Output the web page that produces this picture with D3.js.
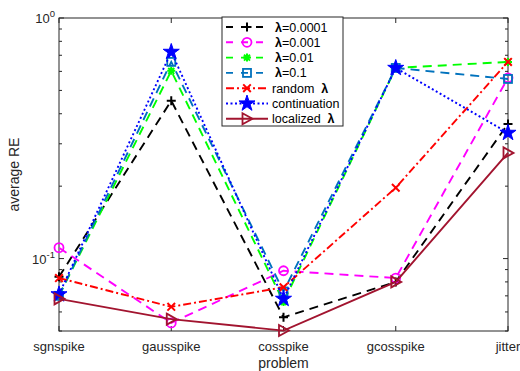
<!DOCTYPE html>
<html>
<head>
<meta charset="utf-8">
<script src="https://cdn.jsdelivr.net/npm/d3@7"></script>
<style>
  body { margin: 0; background: #fff; }
  text { font-family: "Liberation Sans", Arial, sans-serif; }
</style>
</head>
<body>
<div id="chart"></div>
<script>
// problem names on the x axis
var categories = ['sgnspike', 'gausspike', 'cosspike', 'gcosspike', 'jitter'];

// average RE per problem, one array per method
var lam0001 = [0.084, 0.453, 0.057, 0.080, 0.363];
var lam001 = [0.111, 0.054, 0.089, 0.083, 0.564];
var lam01 = [0.070, 0.603, 0.066, 0.620, 0.657];
var lam1 = [0.070, 0.657, 0.073, 0.620, 0.558];
var randomLam = [0.083, 0.063, 0.076, 0.197, 0.657];
var continuation = [0.071, 0.723, 0.068, 0.620, 0.333];
var localized = [0.068, 0.056, 0.0502, 0.080, 0.275];

var yMajorTicks = [0.1, 1];
var yMinorTicks = [0.05, 0.06, 0.07, 0.08, 0.09, 0.2, 0.3, 0.4, 0.5, 0.6, 0.7, 0.8, 0.9];

var series = [
  { pre: '', lam: true, post: '=0.0001', values: lam0001, color: '#000000', dash: '9,6', marker: 'plus' },
  { pre: '', lam: true, post: '=0.001', values: lam001, color: '#FF00FF', dash: '9,6', marker: 'circle' },
  { pre: '', lam: true, post: '=0.01', values: lam01, color: '#00FF00', dash: '9,6', marker: 'asterisk' },
  { pre: '', lam: true, post: '=0.1', values: lam1, color: '#0072BD', dash: '9,6', marker: 'square' },
  { pre: 'random  ', lam: true, post: '', values: randomLam, color: '#FF0000', dash: '8,3,2,3', marker: 'x' },
  { pre: 'continuation', lam: false, post: '', values: continuation, color: '#0000FF', dash: '2,2.5', marker: 'star' },
  { pre: 'localized  ', lam: true, post: '', values: localized, color: '#A2142F', dash: null, marker: 'triangle' }
];

var width = 520, height = 371;
var pLeft = 59, pRight = 508, pTop = 18, pBottom = 331;
var axisColor = '#262626';
var lineW = 1.9;

var svg = d3.select('#chart').append('svg')
  .attr('width', width)
  .attr('height', height);

var x = d3.scalePoint().domain(categories).range([pLeft, pRight]);
var y = d3.scaleLog().domain([0.05, 1]).range([pBottom, pTop]);

// draw a marker of the given kind centred at 0,0
function drawMarker(g, kind, color) {
  if (kind === 'plus') {
    g.append('path').attr('d', 'M-4.5,0H4.5M0,-4.5V4.5')
      .attr('stroke', color).attr('stroke-width', 2).attr('fill', 'none');
  } else if (kind === 'circle') {
    g.append('circle').attr('r', 4.5)
      .attr('stroke', color).attr('stroke-width', 1.8).attr('fill', 'none');
  } else if (kind === 'asterisk') {
    g.append('path').attr('d', 'M-4,0H4M0,-4V4M-3,-3L3,3M-3,3L3,-3')
      .attr('stroke', color).attr('stroke-width', 2).attr('fill', 'none');
    g.append('circle').attr('r', 2.6).attr('fill', color);
  } else if (kind === 'square') {
    g.append('rect').attr('x', -4).attr('y', -4).attr('width', 8).attr('height', 8)
      .attr('stroke', color).attr('stroke-width', 1.8).attr('fill', 'none');
  } else if (kind === 'x') {
    g.append('path').attr('d', 'M-3.8,-3.8L3.8,3.8M-3.8,3.8L3.8,-3.8')
      .attr('stroke', color).attr('stroke-width', 2).attr('fill', 'none');
  } else if (kind === 'star') {
    g.append('path').attr('d', d3.symbol().type(d3.symbolStar).size(80)())
      .attr('stroke', color).attr('stroke-width', 1).attr('fill', color);
  } else if (kind === 'triangle') {
    g.append('path').attr('d', 'M-4.5,-5.5L5.5,0L-4.5,5.5Z')
      .attr('stroke', color).attr('stroke-width', 1.8).attr('fill', 'none');
  }
}

// minor ticks on left and right
yMinorTicks.concat(yMajorTicks).forEach(function(v) {
  var len = yMajorTicks.indexOf(v) >= 0 ? 5 : 3;
  svg.append('line').attr('x1', pLeft).attr('x2', pLeft + len)
    .attr('y1', y(v)).attr('y2', y(v)).attr('stroke', axisColor);
  svg.append('line').attr('x1', pRight).attr('x2', pRight - len)
    .attr('y1', y(v)).attr('y2', y(v)).attr('stroke', axisColor);
});

// category ticks on bottom and top
categories.forEach(function(c) {
  svg.append('line').attr('x1', x(c)).attr('x2', x(c))
    .attr('y1', pBottom).attr('y2', pBottom - 5).attr('stroke', axisColor);
  svg.append('line').attr('x1', x(c)).attr('x2', x(c))
    .attr('y1', pTop).attr('y2', pTop + 5).attr('stroke', axisColor);
  svg.append('text').attr('x', x(c)).attr('y', pBottom + 20)
    .attr('text-anchor', 'middle').attr('font-size', 13).attr('fill', axisColor)
    .text(c);
});

// y tick labels 10^0 and 10^-1
yMajorTicks.forEach(function(v) {
  var t = svg.append('text').attr('x', pLeft - 4).attr('y', y(v) + 5)
    .attr('text-anchor', 'end').attr('font-size', 13).attr('fill', axisColor);
  t.append('tspan').text('10');
  t.append('tspan').attr('dy', -6).attr('font-size', 9.5).text(String(Math.round(Math.log10(v))));
});

// box
svg.append('rect').attr('x', pLeft).attr('y', pTop)
  .attr('width', pRight - pLeft).attr('height', pBottom - pTop)
  .attr('fill', 'none').attr('stroke', axisColor).attr('stroke-width', 1);

// lines and markers
var line = d3.line()
  .x(function(d, i) { return x(categories[i]); })
  .y(function(d) { return y(d); });

series.forEach(function(s) {
  svg.append('path').datum(s.values)
    .attr('d', line)
    .attr('fill', 'none')
    .attr('stroke', s.color)
    .attr('stroke-width', lineW)
    .attr('stroke-dasharray', s.dash);
  s.values.forEach(function(v, i) {
    var g = svg.append('g').attr('transform', 'translate(' + x(categories[i]) + ',' + y(v) + ')');
    drawMarker(g, s.marker, s.color);
  });
});

// axis labels
svg.append('text').attr('x', (pLeft + pRight) / 2).attr('y', 368)
  .attr('text-anchor', 'middle').attr('font-size', 14).attr('fill', axisColor)
  .text('problem');
svg.append('text')
  .attr('transform', 'translate(19,' + ((pTop + pBottom) / 2) + ') rotate(-90)')
  .attr('text-anchor', 'middle').attr('font-size', 14).attr('fill', axisColor)
  .text('average RE');

// legend
var lx = 222, ly = 17, lw = 121, lh = 109;
svg.append('rect').attr('x', lx).attr('y', ly).attr('width', lw).attr('height', lh)
  .attr('fill', '#fff').attr('stroke', axisColor).attr('stroke-width', 1);

series.forEach(function(s, i) {
  var cy = ly + 10 + i * 15.3;
  var g = svg.append('g');
  g.append('line').attr('x1', lx + 4).attr('x2', lx + 46)
    .attr('y1', cy).attr('y2', cy)
    .attr('stroke', s.color).attr('stroke-width', lineW)
    .attr('stroke-dasharray', s.dash ? (i < 4 ? '7,8' : s.dash) : null)
    .attr('stroke-dashoffset', i < 4 ? 0 : 0);
  var mg = g.append('g').attr('transform', 'translate(' + (lx + 25) + ',' + cy + ')');
  drawMarker(mg, s.marker, s.color);
  var t = g.append('text').attr('x', i < 4 ? lx + 53 : lx + 50).attr('y', cy + 4.5)
    .attr('font-size', 12.5).attr('fill', '#000').attr('xml:space', 'preserve');
  if (s.pre) t.append('tspan').text(s.pre);
  if (s.lam) t.append('tspan').attr('font-weight', 'bold').text('λ');
  if (s.post) t.append('tspan').text(s.post);
});
</script>
</body>
</html>
